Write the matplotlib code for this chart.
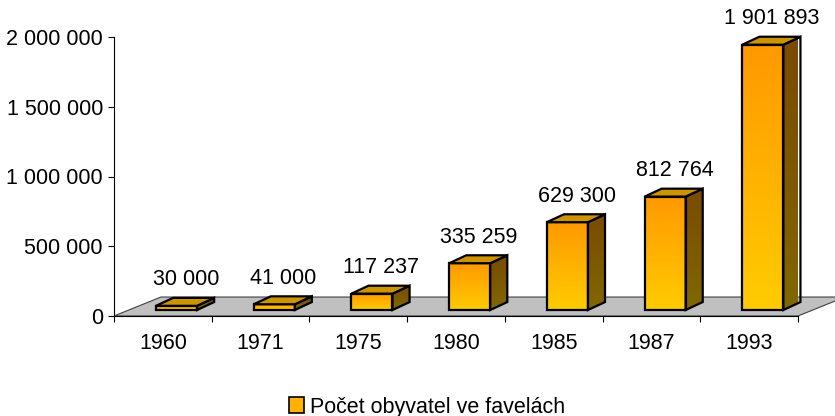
import numpy as np
import matplotlib.pyplot as plt
from matplotlib.patches import Polygon, Rectangle
from matplotlib.colors import LinearSegmentedColormap
from matplotlib.ticker import FuncFormatter

plt.rcParams['font.family'] = ['Liberation Sans', 'DejaVu Sans']

years = ["1960", "1971", "1975", "1980", "1985", "1987", "1993"]
values = [30000, 41000, 117237, 335259, 629300, 812764, 1901893]
series_label = "Počet obyvatel ve favelách"

FS = 15.5
# pseudo-3D geometry (x in category slots, y in data units)
bar_w = 0.42
bar_ox, bar_oy = 0.14, 43000      # bar shift into the depth
bar_dx, bar_dy = 0.175, 57000     # bar depth
floor_dx, floor_dy = 0.48, 136000

front_cmap = LinearSegmentedColormap.from_list("front", ["#FFCC00", "#FF9900"])
side_cmap = LinearSegmentedColormap.from_list("side", ["#806800", "#7A4A00"])
top_color = "#CC9400"

fig = plt.figure(figsize=(8.35, 4.16), dpi=100)
ax = fig.add_axes([114 / 835, 100 / 416, 684 / 835, 279 / 416])
n = len(years)

# floor
floor = Polygon([(0, 0), (n, 0), (n + floor_dx, floor_dy), (floor_dx, floor_dy)],
                closed=True, facecolor="#C0C0C0", edgecolor="#404040", lw=0.8,
                clip_on=False, zorder=1)
ax.add_patch(floor)

grad = np.linspace(0, 1, 256).reshape(-1, 1)

for i, v in enumerate(values):
    x0 = i + 0.5 + bar_ox - bar_w / 2
    x1 = x0 + bar_w
    y0 = bar_oy
    y1 = bar_oy + v
    front = Polygon([(x0, y0), (x1, y0), (x1, y1), (x0, y1)], closed=True,
                    facecolor="none", edgecolor="black", lw=1.6, zorder=4, clip_on=False)
    side = Polygon([(x1, y0), (x1 + bar_dx, y0 + bar_dy), (x1 + bar_dx, y1 + bar_dy), (x1, y1)],
                   closed=True, facecolor="none", edgecolor="black", lw=1.6, zorder=4, clip_on=False)
    top = Polygon([(x0, y1), (x1, y1), (x1 + bar_dx, y1 + bar_dy), (x0 + bar_dx, y1 + bar_dy)],
                  closed=True, facecolor=top_color, edgecolor="black", lw=1.6, zorder=4, clip_on=False)
    for p in (front, side, top):
        ax.add_patch(p)
    im = ax.imshow(grad, cmap=front_cmap, origin="lower", aspect="auto",
                   extent=[x0, x1, y0, y1], zorder=3)
    im.set_clip_path(front)
    im2 = ax.imshow(grad, cmap=side_cmap, origin="lower", aspect="auto",
                    extent=[x1, x1 + bar_dx, y0, y1 + bar_dy], zorder=3)
    im2.set_clip_path(side)
    ax.annotate(f"{v:,}".replace(",", " "), xy=(i + 0.5, v), xytext=(23, 32),
                textcoords="offset pixels", ha="center", va="center",
                fontsize=FS, annotation_clip=False, zorder=6)

ax.set_xlim(0, n)
ax.set_ylim(0, 2000000)

ax.set_yticks(np.arange(0, 2000001, 500000))
ax.yaxis.set_major_formatter(FuncFormatter(lambda y, _: f"{int(y):,}".replace(",", " ")))
ax.tick_params(axis="y", length=4.5, width=0.8, pad=3.5, labelsize=FS)

ax.set_xticks(np.arange(0, n + 1))
ax.set_xticklabels([])
ax.set_xticks(np.arange(n) + 0.5, minor=True)
ax.set_xticklabels(years, minor=True)
ax.tick_params(axis="x", which="major", length=4.5, width=0.8)
ax.tick_params(axis="x", which="minor", length=0, pad=12, labelsize=FS)

for s in ("top", "right"):
    ax.spines[s].set_visible(False)
ax.spines["left"].set_linewidth(0.8)
ax.spines["bottom"].set_linewidth(0.8)
ax.patch.set_alpha(0)

handle = Rectangle((0, 0), 1, 1, facecolor="#FFB300", edgecolor="black", lw=1.2)
fig.legend([handle], [series_label], loc="center", bbox_to_anchor=(427 / 835, 9 / 416),
           frameon=False, fontsize=FS, handlelength=0.7, handleheight=0.7,
           handletextpad=0.3, borderaxespad=0)

fig.savefig("out.png", dpi=100)
